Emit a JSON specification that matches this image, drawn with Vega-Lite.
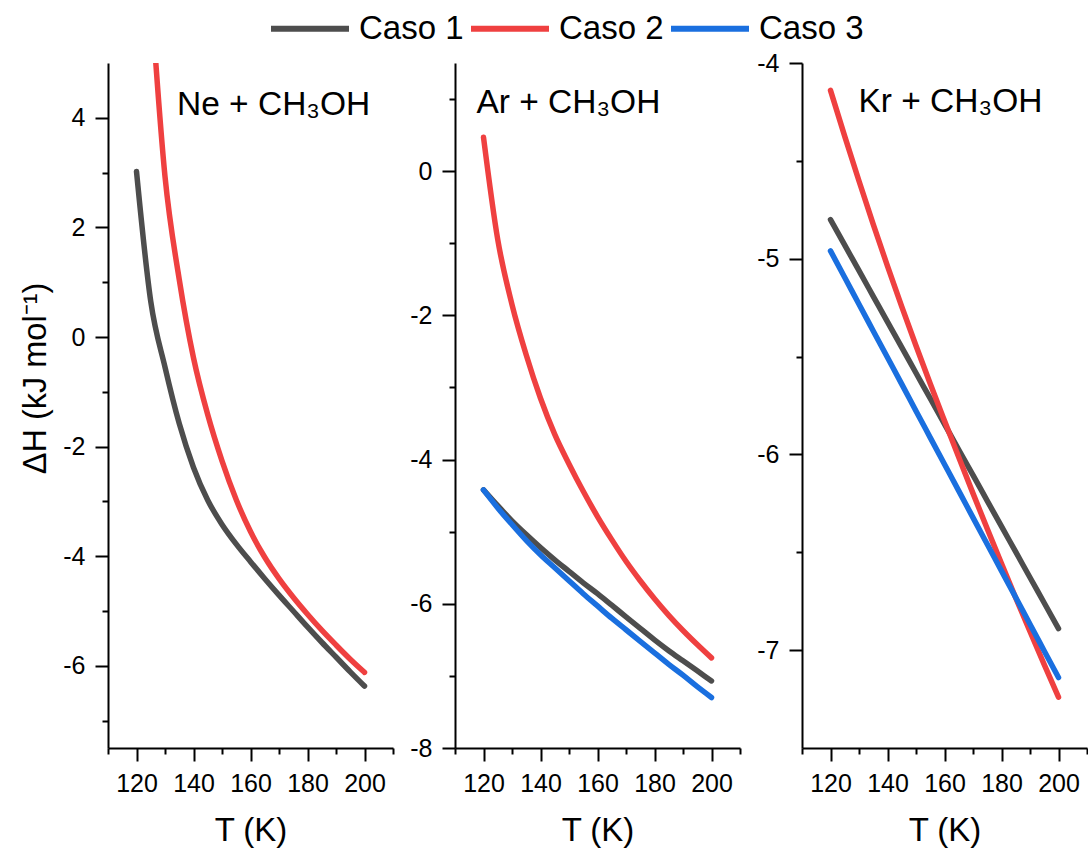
{
  "$schema": "https://vega.github.io/schema/vega-lite/v6.json",
  "background": "white",
  "padding": {"left": 19, "top": 6, "right": 0, "bottom": 5},
  "config": {
    "view": {"stroke": null},
    "font": "Liberation Sans",
    "axis": {
      "grid": false,
      "domainColor": "black",
      "domainWidth": 2,
      "tickColor": "black",
      "tickWidth": 2,
      "labelColor": "black",
      "labelFont": "Liberation Sans",
      "labelFontSize": 25,
      "labelPadding": 10,
      "labelOverlap": false,
      "titleFont": "Liberation Sans",
      "titleFontWeight": "normal",
      "titleColor": "black"
    },
    "legend": {"padding": 0}
  },
  "bounds": "flush",
  "spacing": 62,
  "resolve": {"scale": {"color": "shared"}, "legend": {"color": "shared"}},
  "data": {
    "values": [
      {"panel": "Ne", "caso": "Caso 1", "T": 120, "H": 3.02},
      {"panel": "Ne", "caso": "Caso 1", "T": 125, "H": 0.65},
      {"panel": "Ne", "caso": "Caso 1", "T": 130, "H": -0.55},
      {"panel": "Ne", "caso": "Caso 1", "T": 135, "H": -1.58},
      {"panel": "Ne", "caso": "Caso 1", "T": 140, "H": -2.38},
      {"panel": "Ne", "caso": "Caso 1", "T": 145, "H": -2.98},
      {"panel": "Ne", "caso": "Caso 1", "T": 150, "H": -3.42},
      {"panel": "Ne", "caso": "Caso 1", "T": 155, "H": -3.78},
      {"panel": "Ne", "caso": "Caso 1", "T": 160, "H": -4.1},
      {"panel": "Ne", "caso": "Caso 1", "T": 165, "H": -4.41},
      {"panel": "Ne", "caso": "Caso 1", "T": 170, "H": -4.71},
      {"panel": "Ne", "caso": "Caso 1", "T": 175, "H": -5.0},
      {"panel": "Ne", "caso": "Caso 1", "T": 180, "H": -5.29},
      {"panel": "Ne", "caso": "Caso 1", "T": 185, "H": -5.57},
      {"panel": "Ne", "caso": "Caso 1", "T": 190, "H": -5.84},
      {"panel": "Ne", "caso": "Caso 1", "T": 195, "H": -6.11},
      {"panel": "Ne", "caso": "Caso 1", "T": 200, "H": -6.37},
      {"panel": "Ne", "caso": "Caso 2", "T": 125, "H": 6.3},
      {"panel": "Ne", "caso": "Caso 2", "T": 130, "H": 2.93},
      {"panel": "Ne", "caso": "Caso 2", "T": 135, "H": 1.05},
      {"panel": "Ne", "caso": "Caso 2", "T": 140, "H": -0.38},
      {"panel": "Ne", "caso": "Caso 2", "T": 145, "H": -1.42},
      {"panel": "Ne", "caso": "Caso 2", "T": 150, "H": -2.26},
      {"panel": "Ne", "caso": "Caso 2", "T": 155, "H": -2.97},
      {"panel": "Ne", "caso": "Caso 2", "T": 160, "H": -3.55},
      {"panel": "Ne", "caso": "Caso 2", "T": 165, "H": -4.02},
      {"panel": "Ne", "caso": "Caso 2", "T": 170, "H": -4.41},
      {"panel": "Ne", "caso": "Caso 2", "T": 175, "H": -4.75},
      {"panel": "Ne", "caso": "Caso 2", "T": 180, "H": -5.06},
      {"panel": "Ne", "caso": "Caso 2", "T": 185, "H": -5.35},
      {"panel": "Ne", "caso": "Caso 2", "T": 190, "H": -5.62},
      {"panel": "Ne", "caso": "Caso 2", "T": 195, "H": -5.88},
      {"panel": "Ne", "caso": "Caso 2", "T": 200, "H": -6.12},
      {"panel": "Ar", "caso": "Caso 1", "T": 120, "H": -4.42},
      {"panel": "Ar", "caso": "Caso 1", "T": 125, "H": -4.64},
      {"panel": "Ar", "caso": "Caso 1", "T": 130, "H": -4.85},
      {"panel": "Ar", "caso": "Caso 1", "T": 135, "H": -5.04},
      {"panel": "Ar", "caso": "Caso 1", "T": 140, "H": -5.22},
      {"panel": "Ar", "caso": "Caso 1", "T": 145, "H": -5.39},
      {"panel": "Ar", "caso": "Caso 1", "T": 150, "H": -5.55},
      {"panel": "Ar", "caso": "Caso 1", "T": 155, "H": -5.71},
      {"panel": "Ar", "caso": "Caso 1", "T": 160, "H": -5.86},
      {"panel": "Ar", "caso": "Caso 1", "T": 165, "H": -6.02},
      {"panel": "Ar", "caso": "Caso 1", "T": 170, "H": -6.18},
      {"panel": "Ar", "caso": "Caso 1", "T": 175, "H": -6.34},
      {"panel": "Ar", "caso": "Caso 1", "T": 180, "H": -6.5},
      {"panel": "Ar", "caso": "Caso 1", "T": 185, "H": -6.65},
      {"panel": "Ar", "caso": "Caso 1", "T": 190, "H": -6.79},
      {"panel": "Ar", "caso": "Caso 1", "T": 195, "H": -6.93},
      {"panel": "Ar", "caso": "Caso 1", "T": 200, "H": -7.07},
      {"panel": "Ar", "caso": "Caso 2", "T": 120, "H": 0.47},
      {"panel": "Ar", "caso": "Caso 2", "T": 125, "H": -0.95},
      {"panel": "Ar", "caso": "Caso 2", "T": 130, "H": -1.85},
      {"panel": "Ar", "caso": "Caso 2", "T": 135, "H": -2.55},
      {"panel": "Ar", "caso": "Caso 2", "T": 140, "H": -3.15},
      {"panel": "Ar", "caso": "Caso 2", "T": 145, "H": -3.65},
      {"panel": "Ar", "caso": "Caso 2", "T": 150, "H": -4.06},
      {"panel": "Ar", "caso": "Caso 2", "T": 155, "H": -4.44},
      {"panel": "Ar", "caso": "Caso 2", "T": 160, "H": -4.79},
      {"panel": "Ar", "caso": "Caso 2", "T": 165, "H": -5.11},
      {"panel": "Ar", "caso": "Caso 2", "T": 170, "H": -5.41},
      {"panel": "Ar", "caso": "Caso 2", "T": 175, "H": -5.68},
      {"panel": "Ar", "caso": "Caso 2", "T": 180, "H": -5.93},
      {"panel": "Ar", "caso": "Caso 2", "T": 185, "H": -6.16},
      {"panel": "Ar", "caso": "Caso 2", "T": 190, "H": -6.37},
      {"panel": "Ar", "caso": "Caso 2", "T": 195, "H": -6.565},
      {"panel": "Ar", "caso": "Caso 2", "T": 200, "H": -6.75},
      {"panel": "Ar", "caso": "Caso 3", "T": 120, "H": -4.42},
      {"panel": "Ar", "caso": "Caso 3", "T": 125, "H": -4.67},
      {"panel": "Ar", "caso": "Caso 3", "T": 130, "H": -4.9},
      {"panel": "Ar", "caso": "Caso 3", "T": 135, "H": -5.12},
      {"panel": "Ar", "caso": "Caso 3", "T": 140, "H": -5.32},
      {"panel": "Ar", "caso": "Caso 3", "T": 145, "H": -5.5},
      {"panel": "Ar", "caso": "Caso 3", "T": 150, "H": -5.68},
      {"panel": "Ar", "caso": "Caso 3", "T": 155, "H": -5.86},
      {"panel": "Ar", "caso": "Caso 3", "T": 160, "H": -6.03},
      {"panel": "Ar", "caso": "Caso 3", "T": 165, "H": -6.2},
      {"panel": "Ar", "caso": "Caso 3", "T": 170, "H": -6.36},
      {"panel": "Ar", "caso": "Caso 3", "T": 175, "H": -6.52},
      {"panel": "Ar", "caso": "Caso 3", "T": 180, "H": -6.68},
      {"panel": "Ar", "caso": "Caso 3", "T": 185, "H": -6.84},
      {"panel": "Ar", "caso": "Caso 3", "T": 190, "H": -6.99},
      {"panel": "Ar", "caso": "Caso 3", "T": 195, "H": -7.15},
      {"panel": "Ar", "caso": "Caso 3", "T": 200, "H": -7.3},
      {"panel": "Kr", "caso": "Caso 1", "T": 120, "H": -4.8},
      {"panel": "Kr", "caso": "Caso 1", "T": 125, "H": -4.931},
      {"panel": "Kr", "caso": "Caso 1", "T": 130, "H": -5.061},
      {"panel": "Kr", "caso": "Caso 1", "T": 135, "H": -5.192},
      {"panel": "Kr", "caso": "Caso 1", "T": 140, "H": -5.323},
      {"panel": "Kr", "caso": "Caso 1", "T": 145, "H": -5.453},
      {"panel": "Kr", "caso": "Caso 1", "T": 150, "H": -5.584},
      {"panel": "Kr", "caso": "Caso 1", "T": 155, "H": -5.714},
      {"panel": "Kr", "caso": "Caso 1", "T": 160, "H": -5.845},
      {"panel": "Kr", "caso": "Caso 1", "T": 165, "H": -5.976},
      {"panel": "Kr", "caso": "Caso 1", "T": 170, "H": -6.106},
      {"panel": "Kr", "caso": "Caso 1", "T": 175, "H": -6.237},
      {"panel": "Kr", "caso": "Caso 1", "T": 180, "H": -6.368},
      {"panel": "Kr", "caso": "Caso 1", "T": 185, "H": -6.498},
      {"panel": "Kr", "caso": "Caso 1", "T": 190, "H": -6.629},
      {"panel": "Kr", "caso": "Caso 1", "T": 195, "H": -6.759},
      {"panel": "Kr", "caso": "Caso 1", "T": 200, "H": -6.89},
      {"panel": "Kr", "caso": "Caso 2", "T": 120, "H": -4.14},
      {"panel": "Kr", "caso": "Caso 2", "T": 125, "H": -4.375},
      {"panel": "Kr", "caso": "Caso 2", "T": 130, "H": -4.603},
      {"panel": "Kr", "caso": "Caso 2", "T": 135, "H": -4.824},
      {"panel": "Kr", "caso": "Caso 2", "T": 140, "H": -5.038},
      {"panel": "Kr", "caso": "Caso 2", "T": 145, "H": -5.245},
      {"panel": "Kr", "caso": "Caso 2", "T": 150, "H": -5.445},
      {"panel": "Kr", "caso": "Caso 2", "T": 155, "H": -5.639},
      {"panel": "Kr", "caso": "Caso 2", "T": 160, "H": -5.828},
      {"panel": "Kr", "caso": "Caso 2", "T": 165, "H": -6.015},
      {"panel": "Kr", "caso": "Caso 2", "T": 170, "H": -6.199},
      {"panel": "Kr", "caso": "Caso 2", "T": 175, "H": -6.38},
      {"panel": "Kr", "caso": "Caso 2", "T": 180, "H": -6.558},
      {"panel": "Kr", "caso": "Caso 2", "T": 185, "H": -6.733},
      {"panel": "Kr", "caso": "Caso 2", "T": 190, "H": -6.905},
      {"panel": "Kr", "caso": "Caso 2", "T": 195, "H": -7.074},
      {"panel": "Kr", "caso": "Caso 2", "T": 200, "H": -7.24},
      {"panel": "Kr", "caso": "Caso 3", "T": 120, "H": -4.96},
      {"panel": "Kr", "caso": "Caso 3", "T": 125, "H": -5.096},
      {"panel": "Kr", "caso": "Caso 3", "T": 130, "H": -5.233},
      {"panel": "Kr", "caso": "Caso 3", "T": 135, "H": -5.369},
      {"panel": "Kr", "caso": "Caso 3", "T": 140, "H": -5.505},
      {"panel": "Kr", "caso": "Caso 3", "T": 145, "H": -5.641},
      {"panel": "Kr", "caso": "Caso 3", "T": 150, "H": -5.778},
      {"panel": "Kr", "caso": "Caso 3", "T": 155, "H": -5.914},
      {"panel": "Kr", "caso": "Caso 3", "T": 160, "H": -6.05},
      {"panel": "Kr", "caso": "Caso 3", "T": 165, "H": -6.186},
      {"panel": "Kr", "caso": "Caso 3", "T": 170, "H": -6.323},
      {"panel": "Kr", "caso": "Caso 3", "T": 175, "H": -6.459},
      {"panel": "Kr", "caso": "Caso 3", "T": 180, "H": -6.595},
      {"panel": "Kr", "caso": "Caso 3", "T": 185, "H": -6.731},
      {"panel": "Kr", "caso": "Caso 3", "T": 190, "H": -6.868},
      {"panel": "Kr", "caso": "Caso 3", "T": 195, "H": -7.004},
      {"panel": "Kr", "caso": "Caso 3", "T": 200, "H": -7.14}
    ]
  },
  "hconcat": [
    {
      "width": 285,
      "height": 685,
      "resolve": {"axis": {"x": "independent", "y": "independent"}},
      "layer": [
        {
          "transform": [{"filter": "datum.panel === 'Ne'"}],
          "mark": {"type": "line", "strokeWidth": 5.5, "clip": true, "strokeCap": "round", "strokeJoin": "round", "interpolate": "monotone"},
          "encoding": {
            "x": {"field": "T", "type": "quantitative", "scale": {"domain": [110, 210], "nice": false},
              "axis": {"orient": "bottom", "title": "T (K)", "titleFontSize": 33, "titlePadding": 18,
                "values": [120, 140, 160, 180, 200], "tickSize": 13}},
            "y": {"field": "H", "type": "quantitative", "scale": {"domain": [-7.5, 5], "nice": false, "zero": false},
              "axis": {"orient": "left", "title": "ΔH (kJ mol⁻¹)", "titleFontSize": 32.5, "titlePadding": 10, "titleY": 315,
                "values": [-6, -4, -2, 0, 2, 4], "labelExpr": "'' + datum.value", "tickSize": 13}},
            "color": {"field": "caso", "type": "nominal",
              "scale": {"domain": ["Caso 1", "Caso 2", "Caso 3"], "range": ["#4d4d4d", "#ef4040", "#1a6fdf"]},
              "legend": {"orient": "none", "legendX": 179.5, "legendY": -57, "direction": "horizontal", "title": null,
                "symbolType": "M-2,0H2", "symbolSize": 1521, "symbolStrokeWidth": 6, "labelFontSize": 33,
                "labelFont": "Liberation Sans", "labelColor": "black", "labelOffset": 26.5, "columnPadding": -6, "labelLimit": 0}}
          }
        },
        {
          "data": {"values": [{"label": "Ne + CH₃OH"}]},
          "mark": {"type": "text", "align": "left", "baseline": "alphabetic", "fontSize": 33.5, "font": "Liberation Sans", "color": "black"},
          "encoding": {
            "x": {"datum": 134.2, "type": "quantitative",
              "axis": {"orient": "bottom", "title": null, "values": [110, 130, 150, 170, 190, 210], "tickSize": 6, "labels": false, "domain": false}},
            "y": {"datum": 4.06, "type": "quantitative",
              "axis": {"orient": "left", "title": null, "values": [-7, -5, -3, -1, 1, 3], "tickSize": 6, "labels": false, "domain": false}},
            "text": {"field": "label"}}
        }
      ]
    },
    {
      "width": 285,
      "height": 685,
      "resolve": {"axis": {"x": "independent", "y": "independent"}},
      "layer": [
        {
          "transform": [{"filter": "datum.panel === 'Ar'"}],
          "mark": {"type": "line", "strokeWidth": 5.5, "clip": true, "strokeCap": "round", "strokeJoin": "round", "interpolate": "monotone"},
          "encoding": {
            "x": {"field": "T", "type": "quantitative", "scale": {"domain": [110, 210], "nice": false},
              "axis": {"orient": "bottom", "title": "T (K)", "titleFontSize": 33, "titlePadding": 18,
                "values": [120, 140, 160, 180, 200], "tickSize": 13}},
            "y": {"field": "H", "type": "quantitative", "scale": {"domain": [-8, 1.5], "nice": false, "zero": false},
              "axis": {"orient": "left", "title": null,
                "values": [-8, -6, -4, -2, 0], "labelExpr": "'' + datum.value", "tickSize": 13}},
            "color": {"field": "caso", "type": "nominal",
              "scale": {"domain": ["Caso 1", "Caso 2", "Caso 3"], "range": ["#4d4d4d", "#ef4040", "#1a6fdf"]},
              "legend": {"orient": "none", "legendX": 179.5, "legendY": -57, "direction": "horizontal", "title": null,
                "symbolType": "M-2,0H2", "symbolSize": 1521, "symbolStrokeWidth": 6, "labelFontSize": 33,
                "labelFont": "Liberation Sans", "labelColor": "black", "labelOffset": 26.5, "columnPadding": -6, "labelLimit": 0}}
          }
        },
        {
          "data": {"values": [{"label": "Ar + CH₃OH"}]},
          "mark": {"type": "text", "align": "left", "baseline": "alphabetic", "fontSize": 33.5, "font": "Liberation Sans", "color": "black"},
          "encoding": {
            "x": {"datum": 117.5, "type": "quantitative",
              "axis": {"orient": "bottom", "title": null, "values": [110, 130, 150, 170, 190, 210], "tickSize": 6, "labels": false, "domain": false}},
            "y": {"datum": 0.8, "type": "quantitative",
              "axis": {"orient": "left", "title": null, "values": [-7, -5, -3, -1, 1], "tickSize": 6, "labels": false, "domain": false}},
            "text": {"field": "label"}}
        }
      ]
    },
    {
      "width": 285,
      "height": 685,
      "resolve": {"axis": {"x": "independent", "y": "independent"}},
      "layer": [
        {
          "transform": [{"filter": "datum.panel === 'Kr'"}],
          "mark": {"type": "line", "strokeWidth": 5.5, "clip": true, "strokeCap": "round", "strokeJoin": "round", "interpolate": "monotone"},
          "encoding": {
            "x": {"field": "T", "type": "quantitative", "scale": {"domain": [110, 210], "nice": false},
              "axis": {"orient": "bottom", "title": "T (K)", "titleFontSize": 33, "titlePadding": 18,
                "values": [120, 140, 160, 180, 200], "tickSize": 13}},
            "y": {"field": "H", "type": "quantitative", "scale": {"domain": [-7.5, -4], "nice": false, "zero": false},
              "axis": {"orient": "left", "title": null,
                "values": [-7, -6, -5, -4], "labelExpr": "'' + datum.value", "tickSize": 13}},
            "color": {"field": "caso", "type": "nominal",
              "scale": {"domain": ["Caso 1", "Caso 2", "Caso 3"], "range": ["#4d4d4d", "#ef4040", "#1a6fdf"]},
              "legend": {"orient": "none", "legendX": 179.5, "legendY": -57, "direction": "horizontal", "title": null,
                "symbolType": "M-2,0H2", "symbolSize": 1521, "symbolStrokeWidth": 6, "labelFontSize": 33,
                "labelFont": "Liberation Sans", "labelColor": "black", "labelOffset": 26.5, "columnPadding": -6, "labelLimit": 0}}
          }
        },
        {
          "data": {"values": [{"label": "Kr + CH₃OH"}]},
          "mark": {"type": "text", "align": "left", "baseline": "alphabetic", "fontSize": 33.5, "font": "Liberation Sans", "color": "black"},
          "encoding": {
            "x": {"datum": 129.8, "type": "quantitative",
              "axis": {"orient": "bottom", "title": null, "values": [110, 130, 150, 170, 190, 210], "tickSize": 6, "labels": false, "domain": false}},
            "y": {"datum": -4.252, "type": "quantitative",
              "axis": {"orient": "left", "title": null, "values": [-6.5, -5.5, -4.5], "tickSize": 6, "labels": false, "domain": false}},
            "text": {"field": "label"}}
        }
      ]
    }
  ]
}
